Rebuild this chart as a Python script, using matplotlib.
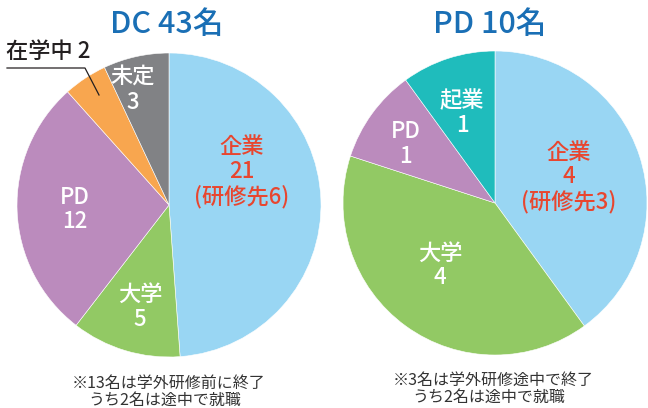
import matplotlib
matplotlib.use('Agg')
import matplotlib.pyplot as plt

plt.rcParams['font.family'] = ['Noto Sans CJK JP', 'DejaVu Sans']

# data
dc_labels = ['企業', '大学', 'PD', '在学中', '未定']
dc_values = [21, 5, 12, 2, 3]
dc_colors = ['#99d6f3', '#92c964', '#bb8bbd', '#f8a64f', '#818285']

pd_labels = ['企業', '大学', 'PD', '起業']
pd_values = [4, 4, 1, 1]
pd_colors = ['#99d6f3', '#92c964', '#bb8bbd', '#1fbcbc']

dc_title = 'DC 43名'
pd_title = 'PD 10名'
dc_note = ['※13名は学外研修前に終了', 'うち2名は途中で就職']
pd_note = ['※3名は学外研修途中で終了', 'うち2名は途中で就職']

W, H = 648, 408
fig = plt.figure(figsize=(6.48, 4.08), dpi=100)

def make_ax(cx, cy, r):
    ax = fig.add_axes([(cx - r) / W, (H - cy - r) / H, 2 * r / W, 2 * r / H])
    return ax

ax1 = make_ax(169, 205, 152)
ax2 = make_ax(495, 203, 152)

for ax, vals, cols in [(ax1, dc_values, dc_colors), (ax2, pd_values, pd_colors)]:
    ax.pie(vals, colors=cols, startangle=90, counterclock=False, radius=1,
           wedgeprops=dict(edgecolor='white', linewidth=0.4))
    ax.set_xlim(-1, 1)
    ax.set_ylim(-1, 1)
    ax.set_aspect('equal')
    ax.axis('off')

red = '#e8462f'
fs = 16
fw = 'medium'
kw = dict(fontsize=fs, fontweight=fw, ha='center', va='center', linespacing=1.1)
# left pie labels
ax1.text(0.48, 0.217, '企業\n%d\n(研修先6)' % dc_values[0], color=red, **kw)
ax1.text(-0.19, -0.67, '%s\n%d' % (dc_labels[1], dc_values[1]), color='white', **kw)
ax1.text(-0.62, -0.03, '%s\n%d' % (dc_labels[2], dc_values[2]), color='white', **kw)
ax1.text(-0.237, 0.757, '%s\n%d' % (dc_labels[4], dc_values[4]), color='white', **kw)

# 在学中 callout (pixel -> data)
def px(x, y):
    return (x - 169) / 152, (205 - y) / 152

lx, ly = zip(px(7, 68), px(85, 68), px(99, 95))
ax1.plot(lx, ly, color='#231f20', lw=0.9, clip_on=False)
tx, ty = px(6, 52)
ax1.text(tx, ty, '%s %d' % (dc_labels[3], dc_values[3]), color='#231f20', fontsize=fs,
         fontweight=fw, ha='left', va='center')

# right pie labels
ax2.text(0.487, 0.17, '企業\n%d\n(研修先3)' % pd_values[0], color=red, **kw)
ax2.text(-0.36, -0.41, '%s\n%d' % (pd_labels[1], pd_values[1]), color='white', **kw)
ax2.text(-0.59, 0.39, '%s\n%d' % (pd_labels[2], pd_values[2]), color='white', **kw)
ax2.text(-0.217, 0.59, '%s\n%d' % (pd_labels[3], pd_values[3]), color='white', **kw)

# titles
blue = '#1a6fb5'
fig.text(167 / W, 1 - 24 / H, dc_title, color=blue, fontsize=22, fontweight=fw,
         ha='center', va='center')
fig.text(490 / W, 1 - 24 / H, pd_title, color=blue, fontsize=22, fontweight=fw,
         ha='center', va='center')

# notes
nc = '#333333'
fig.text(72 / W, 1 - 383 / H, dc_note[0], color=nc, fontsize=11.5, ha='left', va='center')
fig.text(88 / W, 1 - 400 / H, dc_note[1], color=nc, fontsize=11.5, ha='left', va='center')
fig.text(393 / W, 1 - 380 / H, pd_note[0], color=nc, fontsize=11.5, ha='left', va='center')
fig.text(412 / W, 1 - 397 / H, pd_note[1], color=nc, fontsize=11.5, ha='left', va='center')

fig.savefig('out.png', dpi=100)
